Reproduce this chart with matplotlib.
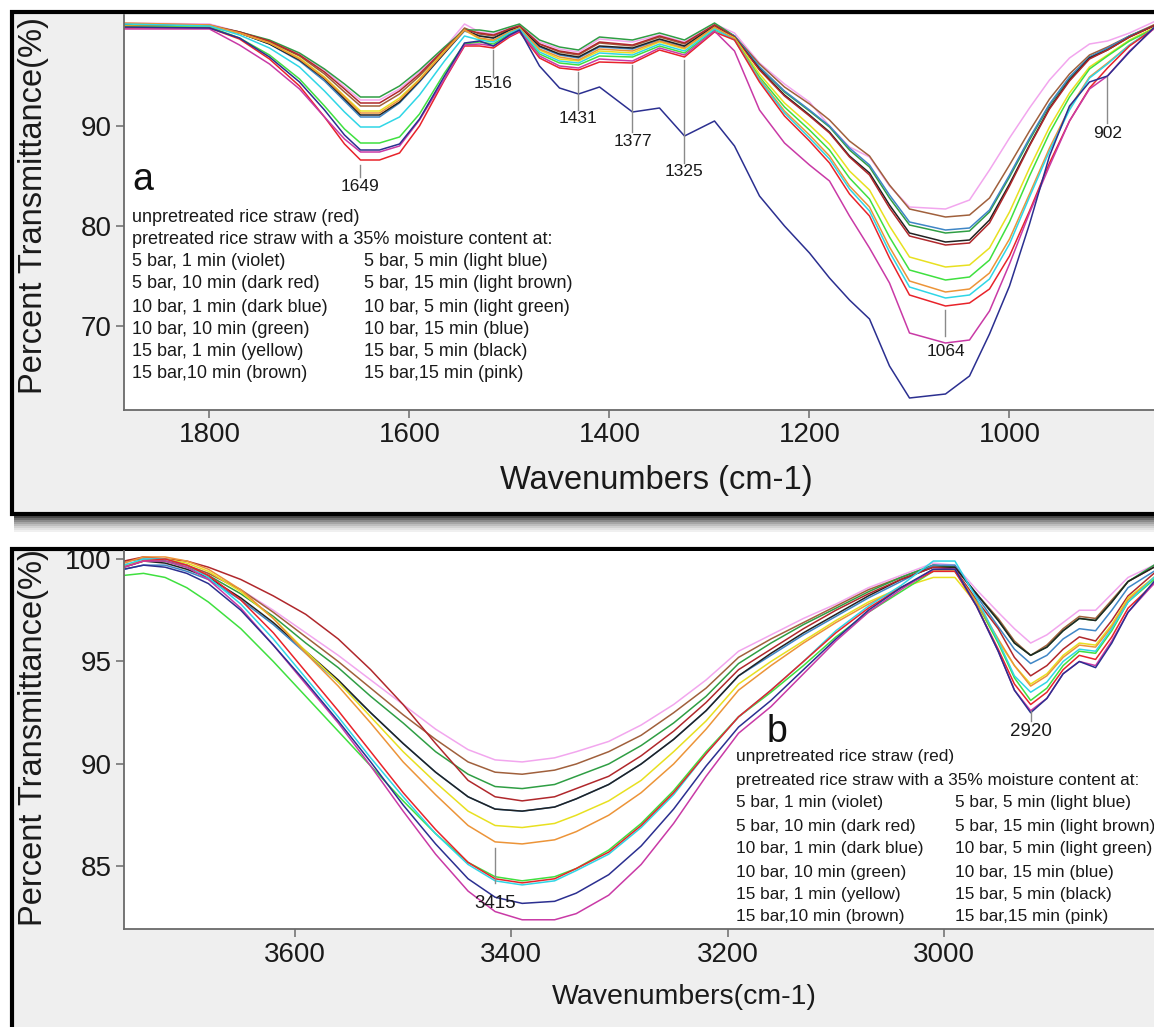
import matplotlib
matplotlib.use('Agg')
import matplotlib.pyplot as plt
from matplotlib.patches import Rectangle

plt.rcParams['font.family'] = ['Liberation Sans', 'DejaVu Sans']

# ---------------- data: panel a (fingerprint region) ----------------
WN_A = [1886, 1800, 1770, 1740, 1710, 1685, 1665, 1649, 1630, 1610, 1590, 1565, 1545,
        1530, 1516, 1500, 1490, 1470, 1450, 1431, 1410, 1377, 1350, 1325, 1295,
        1275, 1250, 1225, 1200, 1180, 1160, 1140, 1120, 1100, 1064, 1040, 1020, 1000,
        980, 960, 940, 920, 902, 880, 856]

A_RED = [99.8, 99.8, 98.7, 96.7, 94.0, 90.9, 88.2, 86.6, 86.6, 87.3, 90.0, 94.6, 98.0,
         98.0, 97.8, 98.9, 99.4, 96.8, 95.8, 95.6, 96.4, 96.3, 97.6, 96.9, 99.4,
         98.6, 94.4, 91.0, 88.5, 86.3, 83.2, 81.0, 76.8, 73.1, 72.0, 72.3, 73.7, 77.0,
         81.5, 86.3, 90.5, 93.8, 95.8, 98.0, 99.7]
A_VIOLET = [99.7, 99.7, 98.1, 96.2, 93.7, 90.9, 88.7, 87.4, 87.4, 88.0, 90.6, 94.7, 98.1,
            98.2, 98.0, 99.0, 99.5, 97.0, 96.0, 95.8, 96.7, 96.5, 97.8, 97.1, 99.5,
            97.5, 91.6, 88.3, 86.1, 84.5, 81.0, 77.8, 74.3, 69.3, 68.3, 68.6, 71.5, 76.2,
            81.3, 86.0, 90.5, 93.7, 95.0, 97.5, 99.7]
A_DKRED = [100.0, 100.0, 99.4, 98.5, 97.1, 95.4, 93.7, 92.3, 92.3, 93.5, 95.2, 97.7, 99.6,
           99.3, 99.1, 99.7, 100.0, 98.2, 97.5, 97.2, 98.4, 98.1, 99.0, 98.3, 100.1,
           98.9, 95.6, 93.0, 91.0, 89.3, 86.9, 85.1, 81.8, 79.0, 78.1, 78.3, 80.3, 84.0,
           88.0, 91.7, 94.5, 96.7, 97.6, 98.9, 100.0]
A_DKBLUE = [99.9, 99.8, 98.8, 96.9, 94.4, 91.6, 89.1, 87.6, 87.6, 88.2, 90.7, 95.0, 98.3,
            98.5, 98.0, 99.1, 99.6, 96.0, 93.8, 93.2, 93.9, 91.4, 91.8, 89.0, 90.5,
            88.0, 83.0, 80.0, 77.3, 74.8, 72.6, 70.7, 66.0, 62.8, 63.2, 65.0, 69.2, 74.0,
            80.2, 87.0, 92.0, 94.4, 95.0, 97.4, 99.8]
A_GREEN = [100.1, 100.0, 99.4, 98.6, 97.3, 95.7, 94.2, 92.9, 92.9, 94.0, 95.6, 97.9, 99.6,
           99.6, 99.4, 99.9, 100.2, 98.6, 97.9, 97.6, 98.9, 98.6, 99.3, 98.6, 100.3,
           99.0, 95.9, 93.4, 91.5, 89.9, 87.6, 85.9, 82.8, 80.1, 79.3, 79.5, 81.4, 84.9,
           88.6, 92.1, 94.8, 96.9, 97.7, 99.0, 100.0]
A_YELLOW = [100.0, 99.9, 99.3, 98.3, 96.8, 94.9, 93.0, 91.5, 91.5, 92.8, 94.7, 97.5, 99.6,
            98.7, 98.5, 99.4, 99.8, 97.6, 96.7, 96.5, 97.5, 97.3, 98.4, 97.7, 99.8,
            98.8, 95.2, 92.3, 90.1, 88.2, 85.5, 83.6, 80.0, 76.9, 75.9, 76.1, 77.8, 81.4,
            85.8, 89.9, 93.3, 95.9, 97.1, 98.6, 99.8]
A_BROWN = [100.2, 100.1, 99.4, 98.4, 97.0, 95.2, 93.4, 92.0, 92.0, 93.2, 95.0, 97.6, 99.8,
           99.2, 99.0, 99.7, 100.0, 98.2, 97.4, 97.1, 98.3, 98.0, 98.9, 98.2, 100.1,
           99.0, 96.2, 93.9, 92.2, 90.6, 88.5, 87.0, 84.1, 81.7, 80.9, 81.1, 82.8, 86.1,
           89.5, 92.7, 95.2, 97.1, 97.9, 99.0, 100.1]
A_LTBLUE = [100.2, 100.0, 99.1, 97.8, 95.9, 93.5, 91.4, 89.9, 89.9, 90.9, 93.1, 96.5, 99.0,
            98.6, 98.4, 99.3, 99.7, 97.4, 96.5, 96.3, 97.3, 97.1, 98.2, 97.5, 99.7,
            98.6, 94.6, 91.3, 88.8, 86.7, 83.7, 81.5, 77.4, 73.9, 72.8, 73.1, 74.7, 78.2,
            82.9, 87.5, 91.6, 94.8, 96.2, 98.1, 99.7]
A_LTBROWN = [100.3, 100.1, 99.3, 98.3, 96.7, 94.8, 92.9, 91.3, 91.3, 92.6, 94.6, 97.4, 99.6,
             98.8, 98.6, 99.4, 99.8, 97.7, 96.9, 96.6, 97.7, 97.5, 98.5, 97.8, 99.9,
             98.7, 94.7, 91.5, 89.1, 87.0, 84.0, 81.9, 77.9, 74.5, 73.4, 73.7, 75.3, 78.7,
             83.2, 87.8, 91.8, 94.9, 96.3, 98.1, 99.7]
A_LTGREEN = [99.9, 99.9, 98.8, 97.1, 94.7, 92.0, 89.7, 88.3, 88.3, 88.9, 91.2, 95.3, 98.2,
             98.4, 98.2, 99.2, 99.6, 97.2, 96.3, 96.1, 97.0, 96.9, 98.0, 97.3, 99.6,
             98.7, 94.9, 91.9, 89.6, 87.6, 84.8, 82.7, 78.9, 75.6, 74.6, 74.9, 76.6, 80.4,
             85.0, 89.3, 92.9, 95.7, 97.0, 98.5, 99.7]
A_BLUE = [100.0, 99.9, 99.3, 98.2, 96.5, 94.5, 92.5, 90.9, 90.9, 92.3, 94.4, 97.3, 99.5,
          99.0, 98.8, 99.5, 99.9, 97.9, 97.1, 96.8, 97.9, 97.7, 98.6, 97.9, 99.9,
          99.0, 95.9, 93.5, 91.6, 90.0, 87.8, 86.1, 83.1, 80.4, 79.6, 79.8, 81.6, 85.1,
          88.8, 92.2, 94.9, 96.9, 97.8, 99.0, 100.0]
A_BLACK = [100.1, 100.0, 99.3, 98.2, 96.6, 94.7, 92.7, 91.1, 91.1, 92.4, 94.5, 97.3, 99.6,
           99.0, 98.8, 99.6, 99.9, 98.0, 97.2, 96.9, 98.0, 97.8, 98.7, 98.0, 100.0,
           98.9, 95.7, 93.1, 91.1, 89.4, 87.0, 85.3, 82.1, 79.3, 78.4, 78.6, 80.6, 84.2,
           88.1, 91.8, 94.6, 96.8, 97.6, 98.9, 100.0]
A_PINK = [100.3, 100.2, 99.4, 98.5, 97.2, 95.6, 93.9, 92.6, 92.6, 93.7, 95.4, 97.8, 100.2,
          99.4, 99.2, 99.8, 100.1, 98.4, 97.7, 97.4, 98.7, 98.4, 99.1, 98.4, 100.2,
          99.3, 96.3, 94.2, 92.4, 90.0, 87.9, 86.9, 84.0, 81.9, 81.7, 82.6, 85.6, 88.8,
          91.8, 94.6, 96.8, 98.2, 98.5, 99.3, 100.4]

# ---------------- data: panel b (O-H / C-H region) ----------------
WN_B = [3758, 3740, 3720, 3700, 3680, 3650, 3620, 3590, 3560, 3530, 3500, 3470, 3440, 3415,
        3390, 3360, 3340, 3310, 3280, 3250, 3220, 3190, 3160, 3130, 3100, 3070, 3040, 3010,
        2990, 2970, 2950, 2935, 2920, 2905, 2890, 2875, 2860, 2845, 2830, 2806]

B_RED = [99.6, 99.9, 100.0, 99.7, 99.2, 98.0, 96.4, 94.5, 92.6, 90.6, 88.6, 86.8, 85.2, 84.4,
         84.2, 84.4, 84.9, 85.7, 87.0, 88.6, 90.5, 92.3, 93.6, 95.0, 96.4, 97.6, 98.6, 99.4,
         99.4, 97.7, 95.6, 93.9, 92.9, 93.5, 94.6, 95.3, 95.1, 96.2, 97.6, 98.8]
B_VIOLET = [99.6, 99.9, 99.9, 99.6, 99.0, 97.6, 95.8, 93.9, 92.0, 89.9, 87.7, 85.6, 83.8, 82.8,
            82.4, 82.4, 82.7, 83.6, 85.1, 87.1, 89.4, 91.5, 92.8, 94.4, 96.0, 97.4, 98.5, 99.5,
            99.5, 97.7, 95.5, 93.6, 92.6, 93.2, 94.4, 95.0, 94.8, 96.0, 97.4, 98.8]
B_DKRED = [99.9, 100.1, 100.0, 99.9, 99.6, 99.0, 98.2, 97.3, 96.1, 94.6, 92.9, 91.0, 89.2, 88.4,
           88.2, 88.4, 88.8, 89.4, 90.4, 91.6, 93.0, 94.6, 95.6, 96.6, 97.5, 98.3, 99.0, 99.6,
           99.5, 98.0, 96.6, 95.2, 94.3, 94.8, 95.6, 96.2, 96.0, 97.0, 98.2, 99.3]
B_DKBLUE = [99.5, 99.7, 99.6, 99.3, 98.8, 97.5, 95.8, 94.0, 92.1, 90.1, 88.0, 86.1, 84.4, 83.5,
            83.2, 83.3, 83.7, 84.6, 86.0, 87.8, 89.9, 91.8, 93.1, 94.6, 96.1, 97.5, 98.6, 99.5,
            99.5, 97.7, 95.5, 93.6, 92.5, 93.2, 94.4, 95.0, 94.7, 95.9, 97.4, 98.9]
B_GREEN = [99.6, 99.9, 99.9, 99.6, 99.2, 98.3, 97.2, 95.9, 94.7, 93.3, 92.0, 90.6, 89.5, 88.9,
           88.8, 89.0, 89.4, 90.0, 90.9, 92.0, 93.3, 94.9, 95.9, 96.8, 97.6, 98.4, 99.1, 99.7,
           99.6, 98.3, 97.0, 95.9, 95.3, 95.7, 96.5, 97.1, 97.0, 97.9, 98.9, 99.7]
B_YELLOW = [99.7, 99.9, 100.0, 99.8, 99.4, 98.4, 97.1, 95.5, 94.0, 92.3, 90.6, 89.1, 87.7, 87.0,
            86.9, 87.1, 87.5, 88.2, 89.2, 90.6, 92.1, 93.9, 95.0, 96.0, 97.0, 97.9, 98.6, 99.1,
            99.1, 97.8, 96.0, 94.8, 93.9, 94.4, 95.3, 95.9, 95.8, 96.8, 98.1, 99.1]
B_BROWN = [99.9, 100.0, 99.9, 99.7, 99.3, 98.5, 97.4, 96.2, 95.0, 93.7, 92.4, 91.2, 90.1, 89.6,
           89.5, 89.7, 90.0, 90.6, 91.4, 92.5, 93.7, 95.2, 96.1, 96.9, 97.7, 98.5, 99.1, 99.7,
           99.6, 98.3, 97.1, 96.0, 95.3, 95.8, 96.6, 97.2, 97.1, 98.0, 98.9, 99.6]
B_LTBLUE = [99.7, 100.0, 100.0, 99.7, 99.1, 97.8, 96.1, 94.2, 92.3, 90.3, 88.4, 86.6, 85.1, 84.3,
            84.1, 84.3, 84.8, 85.6, 86.9, 88.5, 90.5, 92.3, 93.6, 95.0, 96.5, 97.7, 98.7, 99.9,
            99.9, 98.1, 96.0, 94.3, 93.5, 94.0, 95.0, 95.6, 95.5, 96.6, 97.9, 99.1]
B_LTBROWN = [99.8, 100.1, 100.1, 99.9, 99.5, 98.5, 97.1, 95.4, 93.8, 92.0, 90.1, 88.5, 87.0, 86.2,
             86.1, 86.3, 86.7, 87.5, 88.6, 90.0, 91.7, 93.6, 94.8, 95.9, 96.9, 97.8, 98.6, 99.4,
             99.4, 97.9, 96.1, 94.8, 93.8, 94.3, 95.2, 95.8, 95.7, 96.7, 98.0, 99.1]
B_LTGREEN = [99.2, 99.3, 99.1, 98.6, 97.9, 96.6, 95.0, 93.3, 91.6, 89.9, 88.2, 86.6, 85.2, 84.5,
             84.3, 84.5, 84.9, 85.8, 87.1, 88.7, 90.6, 92.3, 93.5, 94.8, 96.2, 97.4, 98.4, 99.4,
             99.4, 97.9, 95.9, 94.2, 93.1, 93.7, 94.8, 95.5, 95.4, 96.5, 97.9, 99.0]
B_BLUE = [99.5, 99.7, 99.7, 99.4, 99.0, 98.0, 96.8, 95.4, 94.0, 92.5, 91.0, 89.6, 88.4, 87.8,
          87.7, 87.9, 88.3, 89.0, 90.0, 91.2, 92.6, 94.3, 95.3, 96.3, 97.2, 98.1, 98.9, 99.7,
          99.7, 98.2, 96.7, 95.6, 94.9, 95.3, 96.1, 96.6, 96.5, 97.5, 98.6, 99.4]
B_BLACK = [99.7, 99.9, 99.8, 99.5, 99.1, 98.1, 96.9, 95.5, 94.1, 92.5, 91.0, 89.6, 88.4, 87.8,
           87.7, 87.9, 88.3, 89.0, 90.0, 91.2, 92.6, 94.3, 95.4, 96.4, 97.3, 98.2, 99.0, 99.6,
           99.6, 98.3, 97.0, 95.9, 95.3, 95.7, 96.5, 97.1, 97.0, 97.9, 98.9, 99.6]
B_PINK = [99.8, 100.1, 100.0, 99.7, 99.3, 98.5, 97.5, 96.4, 95.3, 94.1, 92.9, 91.7, 90.7, 90.2,
          90.1, 90.3, 90.6, 91.1, 91.9, 92.9, 94.1, 95.5, 96.3, 97.1, 97.8, 98.6, 99.2, 99.8,
          99.7, 98.5, 97.4, 96.6, 95.9, 96.3, 96.9, 97.5, 97.5, 98.3, 99.1, 99.7]

SERIES_A = [A_PINK, A_BROWN, A_GREEN, A_BLUE, A_BLACK, A_DKRED, A_YELLOW, A_LTGREEN,
            A_LTBROWN, A_LTBLUE, A_RED, A_VIOLET, A_DKBLUE]
SERIES_B = [B_PINK, B_BROWN, B_GREEN, B_BLUE, B_BLACK, B_DKRED, B_YELLOW, B_LTGREEN,
            B_LTBROWN, B_LTBLUE, B_RED, B_VIOLET, B_DKBLUE]
COLORS = ['#f2a6ee', '#a0603c', '#2f9e44', '#3f86c6', '#222222', '#b0282c', '#e8e020',
          '#3fe03f', '#ec9438', '#2fd6e6', '#e8232a', '#c93aa6', '#2b2f90']

LEGEND_HEAD = ['unpretreated rice straw (red)',
               'pretreated rice straw with a 35% moisture content at:']
LEGEND_COL1 = ['5 bar, 1 min (violet)', '5 bar, 10 min (dark red)', '10 bar, 1 min (dark blue)',
               '10 bar, 10 min (green)', '15 bar, 1 min (yellow)', '15 bar,10 min (brown)']
LEGEND_COL2 = ['5 bar, 5 min (light blue)', '5 bar, 15 min (light brown)',
               '10 bar, 5 min (light green)', '10 bar, 15 min (blue)',
               '15 bar, 5 min (black)', '15 bar,15 min (pink)']

PEAKS_A = ['1649', '1516', '1431', '1377', '1325', '1064', '902']
PEAKS_B = ['3415', '2920']

# ---------------- layout ----------------
W, H = 1154, 1027
fig = plt.figure(figsize=(W / 100, H / 100), dpi=100)
fig.patch.set_facecolor('white')


def fx(px):
    return px / W


def fy(py):
    return 1 - py / H


def panel_frame(top, bottom, shadow=True):
    fig.add_artist(Rectangle((fx(12), fy(bottom)), fx(1190) - fx(12), fy(top) - fy(bottom),
                             transform=fig.transFigure, facecolor='#efefef',
                             edgecolor='black', lw=3.0, zorder=-2))
    if shadow:
        greys = ['#4a4a4a', '#6a6a6a', '#8a8a8a', '#a5a5a5', '#bdbdbd', '#d2d2d2',
                 '#e3e3e3', '#f0f0f0']
        for i, g in enumerate(greys):
            y0 = bottom + 2 + 2 * i
            fig.add_artist(Rectangle((fx(14), fy(y0 + 2)), fx(1190) - fx(14), 2 / H,
                                     transform=fig.transFigure, facecolor=g,
                                     edgecolor='none', zorder=-3))


def style_axes(ax):
    ax.set_facecolor('white')
    for s in ['top', 'right']:
        ax.spines[s].set_visible(False)
    for s in ['left', 'bottom']:
        ax.spines[s].set_color('#6a6a6a')
        ax.spines[s].set_linewidth(1.3)
    ax.tick_params(direction='out', length=6, width=1.1, color='#6a6a6a',
                   labelsize=20, labelcolor='#1a1a1a', pad=3)


panel_frame(12, 514)
panel_frame(549, 1045, shadow=False)

# panel a
ax_a = fig.add_axes([fx(124), fy(410), fx(1154) - fx(124), fy(15) - fy(410)])
style_axes(ax_a)
for ys, c in zip(SERIES_A, COLORS):
    ax_a.plot(WN_A, ys, color=c, lw=1.1)
ax_a.set_xlim(1885.5, 855.5)
ax_a.set_ylim(61.6, 101.1)
ax_a.set_xticks([1800, 1600, 1400, 1200, 1000])
ax_a.set_yticks([70, 80, 90])

peak_pos_a = [(1649, 86.1, 84.9, 83.9), (1516, 97.6, 94.9, 94.3), (1431, 95.4, 91.6, 90.7),
              (1377, 96.1, 89.4, 88.4), (1325, 96.6, 86.3, 85.4), (1064, 71.6, 69.0, 67.4),
              (902, 94.9, 90.3, 89.3)]
for lab, (x, y0, y1, yt) in zip(PEAKS_A, peak_pos_a):
    ax_a.plot([x, x], [y0, y1], color='#8a8a8a', lw=1.0)
    ax_a.text(x, yt, lab, ha='center', va='center', fontsize=12.5, color='#1a1a1a')

fig.text(fx(132), fy(190), 'a', fontsize=27, color='#111111', ha='left', va='baseline')
line_y_a = [217, 239.5, 262, 284, 307, 329, 352, 374]
for t, y in zip(LEGEND_HEAD, line_y_a[:2]):
    fig.text(fx(132), fy(y), t, fontsize=13, va='center', ha='left', color='#1a1a1a')
for t1, t2, y in zip(LEGEND_COL1, LEGEND_COL2, line_y_a[2:]):
    fig.text(fx(132), fy(y), t1, fontsize=13, va='center', ha='left', color='#1a1a1a')
    fig.text(fx(364), fy(y), t2, fontsize=13, va='center', ha='left', color='#1a1a1a')

fig.text(fx(34), fy(206), 'Percent Transmittance(%)', rotation=90, fontsize=23.5,
         ha='center', va='center', color='#1a1a1a')
fig.text(fx(656), fy(481), 'Wavenumbers (cm-1)', fontsize=23.5, ha='center', va='center',
         color='#1a1a1a')

# panel b
ax_b = fig.add_axes([fx(124), fy(929), fx(1154) - fx(124), fy(551) - fy(929)])
style_axes(ax_b)
for ys, c in zip(SERIES_B, COLORS):
    ax_b.plot(WN_B, ys, color=c, lw=1.1)
ax_b.set_xlim(3758, 2806)
ax_b.set_ylim(81.95, 100.39)
ax_b.set_xticks([3600, 3400, 3200, 3000])
ax_b.set_yticks([85, 90, 95, 100])

peak_pos_b = [(3415, 85.9, 84.2, 83.2), (2920, 92.6, 92.1, 91.6)]
for lab, (x, y0, y1, yt) in zip(PEAKS_B, peak_pos_b):
    ax_b.plot([x, x], [y0, y1], color='#8a8a8a', lw=1.0)
    ax_b.text(x, yt, lab, ha='center', va='center', fontsize=13.5, color='#1a1a1a')

fig.text(fx(767), fy(742), 'b', fontsize=27, color='#111111', ha='left', va='baseline')
line_y_b = [757, 780, 803, 826, 849, 872, 894, 917]
for t, y in zip(LEGEND_HEAD, line_y_b[:2]):
    fig.text(fx(736), fy(y), t, fontsize=12.4, va='center', ha='left', color='#1a1a1a')
for t1, t2, y in zip(LEGEND_COL1, LEGEND_COL2, line_y_b[2:]):
    fig.text(fx(736), fy(y), t1, fontsize=12.4, va='center', ha='left', color='#1a1a1a')
    fig.text(fx(955), fy(y), t2, fontsize=12.4, va='center', ha='left', color='#1a1a1a')

fig.text(fx(34), fy(738), 'Percent Transmittance(%)', rotation=90, fontsize=23.5,
         ha='center', va='center', color='#1a1a1a')
fig.text(fx(684), fy(997), 'Wavenumbers(cm-1)', fontsize=20.5, ha='center', va='center',
         color='#1a1a1a')

plt.savefig('out.png', dpi=100)
